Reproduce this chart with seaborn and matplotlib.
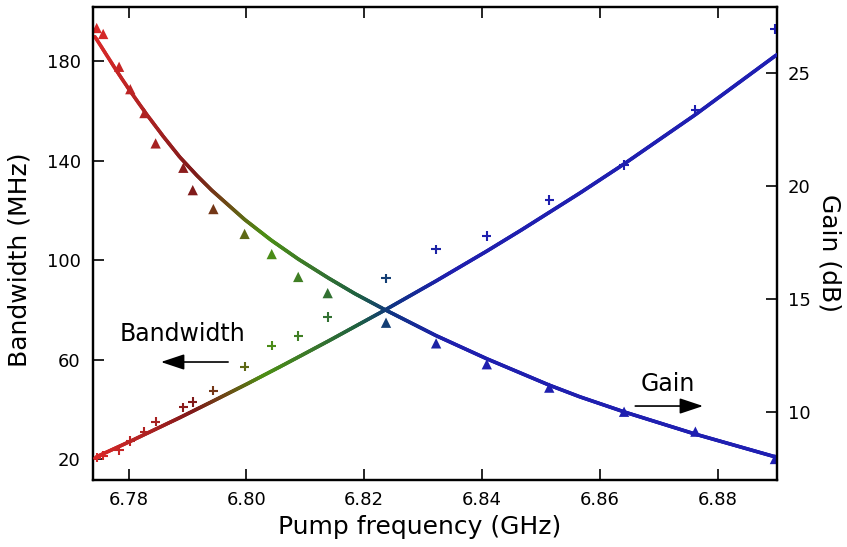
import numpy as np
import pandas as pd
import matplotlib
matplotlib.use("Agg")
import matplotlib.pyplot as plt
import seaborn as sns
from matplotlib.collections import LineCollection
from matplotlib.colors import LinearSegmentedColormap

# ---------------- data ----------------
freq = [6.7746, 6.7757, 6.7784, 6.7803, 6.7827, 6.7846, 6.7893, 6.7909, 6.7944, 6.7997,
        6.8043, 6.8088, 6.8138, 6.8237, 6.8322, 6.8408, 6.8514, 6.8641, 6.8762, 6.8897]
bandwidth = [193.3, 190.9, 177.7, 168.7, 159.1, 146.9, 137.1, 128.1, 120.5, 110.5,
             102.4, 93.2, 86.7, 74.8, 66.5, 58.1, 48.7, 39.0, 31.0, 20.0]
gain = [7.99, 8.08, 8.33, 8.73, 9.14, 9.58, 10.22, 10.45, 10.95, 12.01,
        12.94, 13.37, 14.21, 15.92, 17.21, 17.80, 19.39, 20.94, 23.37, 26.96]

fit_bw_freq = [6.7743, 6.7780, 6.7802, 6.7831, 6.7859, 6.7887, 6.7916, 6.7941, 6.7997,
               6.8042, 6.8088, 6.8139, 6.8184, 6.8233, 6.8322, 6.8408, 6.8514, 6.8566,
               6.8643, 6.8762, 6.8900]
fit_bw = [189.8, 176.0, 168.2, 158.5, 149.7, 141.4, 134.0, 128.1, 116.3,
          108.0, 100.4, 92.8, 86.5, 80.3, 69.6, 60.3, 49.7, 45.0,
          38.8, 30.0, 20.7]

fit_gain_freq = [6.7743, 6.7746, 6.7802, 6.7887, 6.7944, 6.8001, 6.8057, 6.8091, 6.8142,
                 6.8233, 6.8322, 6.8408, 6.8467, 6.8566, 6.8640, 6.8762, 6.8900]
fit_gain = [7.96, 8.03, 8.70, 9.76, 10.50, 11.25, 12.01, 12.48, 13.19,
            14.49, 15.81, 17.13, 18.07, 19.70, 20.97, 23.17, 25.82]

x_ticks = [6.78, 6.80, 6.82, 6.84, 6.86, 6.88]
bw_ticks = [20, 60, 100, 140, 180]
gain_ticks = [10, 15, 20, 25]

# ---------------- style ----------------
sns.set_style("ticks")
plt.rcParams['font.family'] = ['DejaVu Sans']
plt.rcParams['text.color'] = 'black'
plt.rcParams['axes.labelcolor'] = 'black'
plt.rcParams['xtick.color'] = 'black'
plt.rcParams['ytick.color'] = 'black'

xmin, xmax = 6.774, 6.890
stops = [(6.774, (0.86, 0.16, 0.16)),
         (6.784, (0.66, 0.13, 0.13)),
         (6.791, (0.50, 0.10, 0.10)),
         (6.797, (0.42, 0.30, 0.08)),
         (6.803, (0.30, 0.56, 0.08)),
         (6.812, (0.22, 0.46, 0.18)),
         (6.819, (0.12, 0.38, 0.25)),
         (6.825, (0.06, 0.20, 0.52)),
         (6.834, (0.12, 0.12, 0.68)),
         (6.890, (0.12, 0.12, 0.70))]
cmap = LinearSegmentedColormap.from_list(
    "pump", [((f - xmin) / (xmax - xmin), c) for f, c in stops])

fig = plt.figure(figsize=(8.47, 5.47), dpi=100)
ax = fig.add_axes([0.110, 0.1225, 0.807, 0.8645])
ax2 = ax.twinx()

df = pd.DataFrame({"freq": freq, "bandwidth": bandwidth, "gain": gain})

sns.scatterplot(data=df, x="freq", y="bandwidth", hue="freq", palette=cmap,
                hue_norm=(xmin, xmax), marker="^", s=55, linewidth=0,
                legend=False, ax=ax, zorder=2, clip_on=True)
sns.scatterplot(data=df, x="freq", y="gain", hue="freq", palette=cmap,
                hue_norm=(xmin, xmax), marker="+", s=45, linewidth=1.5,
                legend=False, ax=ax2, zorder=2, clip_on=True)


def gradient_line(axis, xs, ys):
    xs = np.asarray(xs)
    ys = np.asarray(ys)
    xf = np.linspace(xs[0], xs[-1], 600)
    yf = np.interp(xf, xs, ys)
    pts = np.column_stack([xf, yf]).reshape(-1, 1, 2)
    segs = np.concatenate([pts[:-1], pts[1:]], axis=1)
    lc = LineCollection(segs, cmap=cmap, norm=plt.Normalize(xmin, xmax),
                        linewidth=2.6, zorder=3, capstyle="round")
    lc.set_array(0.5 * (xf[:-1] + xf[1:]))
    axis.add_collection(lc)


gradient_line(ax, fit_bw_freq, fit_bw)
gradient_line(ax2, fit_gain_freq, fit_gain)

ax.set_xlim(xmin, xmax)
ax.set_ylim(11.56, 201.7)
ax2.set_ylim(7.0, 27.93)

ax.set_xticks(x_ticks)
ax.set_xticklabels([f"{t:.2f}" for t in x_ticks])
ax.set_yticks(bw_ticks)
ax2.set_yticks(gain_ticks)

ax.tick_params(axis="x", direction="in", top=True, length=8, width=1.2,
               labelsize=13, pad=8, color="black")
ax.tick_params(axis="y", direction="in", right=False, length=8, width=1.2,
               labelsize=13, pad=9)
ax2.tick_params(axis="y", direction="in", length=8, width=1.2, labelsize=13, pad=8)

for a in (ax, ax2):
    for sp in a.spines.values():
        sp.set_linewidth(1.6)
        sp.set_color("black")
        sp.set_visible(True)

ax.set_xlabel("Pump frequency (GHz)", fontsize=18, va="center")
ax.set_ylabel("Bandwidth (MHz)", fontsize=18, va="center")
ax2.set_ylabel("Gain (dB)", fontsize=18, rotation=270, va="center")
ax.xaxis.set_label_coords(0.477, -0.099)
ax.yaxis.set_label_coords(-0.108, 0.465)
ax2.yaxis.set_label_coords(1.077, 0.48)

# annotations
arrow_kw = dict(arrowstyle="-|>,head_length=0.6,head_width=0.2",
                mutation_scale=24, lw=1.2, color="black", shrinkA=0, shrinkB=0)
ax.text(6.7892, 70.3, "Bandwidth", fontsize=17, ha="center", va="center")
ax.annotate("", xy=(6.7855, 59.0), xytext=(6.7969, 59.0), arrowprops=arrow_kw)
ax.text(6.8715, 50.2, "Gain", fontsize=17, ha="center", va="center")
ax.annotate("", xy=(6.8775, 41.3), xytext=(6.8660, 41.3), arrowprops=arrow_kw)

fig.savefig("out.png", dpi=100)
